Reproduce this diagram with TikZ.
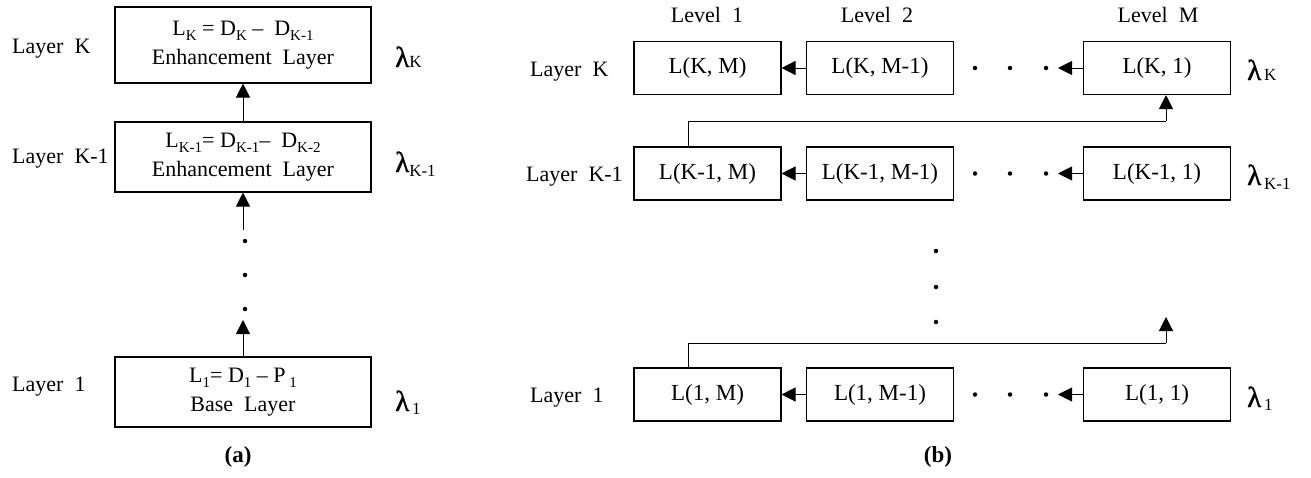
\documentclass[tikz,border=0pt]{standalone}
\usepackage{fontspec}
\setmainfont{Liberation Serif}
\newfontfamily\lamfont[FakeBold=1.2]{Liberation Serif}
\usetikzlibrary{arrows.meta,calc}

\newcommand{\bodysize}{\fontsize{22}{29}\selectfont}
\newcommand{\cellsize}{\fontsize{23}{23}\selectfont}
\newcommand{\lsb}[1]{\raisebox{-5pt}{\fontsize{15}{15}\selectfont #1}}
\newcommand{\lam}[2]{{\lamfont\fontsize{29}{29}\selectfont λ}\raisebox{#2}{\fontsize{17}{17}\selectfont #1}}

\tikzset{
  layerbox/.style={draw, line width=1.1pt, minimum width=256pt, inner sep=0pt,
                   align=center, font=\bodysize},
  cell/.style={draw, line width=1.1pt, minimum width=147pt, minimum height=53pt,
               inner sep=0pt, font=\cellsize},
  lbl/.style={anchor=base west, inner sep=0pt, font=\bodysize},
  toplbl/.style={anchor=base, inner sep=0pt, font=\bodysize},
  lamlbl/.style={anchor=base west, inner sep=0pt},
  arr/.style={-{Triangle[length=14pt,width=14pt]}, line width=1pt},
  link/.style={line width=1pt},
  dot/.style={circle, fill, inner sep=0pt, minimum size=4.5pt},
  caption/.style={anchor=base, inner sep=0pt, font=\fontsize{23}{23}\selectfont\bfseries}
}

\begin{document}
\begin{tikzpicture}[x=1pt,y=-1pt]
\useasboundingbox (0,0) rectangle (1311,477);

% ---------- (a) layered coding ----------
\node[layerbox, minimum height=76pt] (aK) at (243,45)
  {L\lsb{K} = D\lsb{K} –\ \ D\lsb{K-1}\\Enhancement\ \ Layer};
\node[layerbox, minimum height=70pt] (aKm) at (243,157)
  {L\lsb{K-1}= D\lsb{K-1}–\ \ D\lsb{K-2}\\Enhancement\ \ Layer};
\node[layerbox, minimum height=70pt] (aOne) at (243,392)
  {L\lsb{1}= D\lsb{1} – P\,\lsb{1}\\Base\ \ Layer};

\draw[arr] (aKm.north) -- (aK.south);
\coordinate (aFromDots) at (243,230);
\draw[arr] (aFromDots) -- (aKm.south);
\coordinate (aToDots) at (243,320);
\draw[arr] (aOne.north) -- (aToDots);

\node[dot] (ad1) at (245,241) {};
\node[dot] (ad2) at (245,275) {};
\node[dot] (ad3) at (245,309) {};

\node[lbl] (aLK)  at (12,53)  {Layer\ \ K};
\node[lbl] (aLKm) at (12,163) {Layer\ \ K-1};
\node[lbl] (aL1)  at (12,391) {Layer\ \ 1};

\node[lamlbl] (aLamK)  at (395,67)  {\lam{K}{0pt}};
\node[lamlbl] (aLamKm) at (395,172) {\lam{K-1}{-4pt}};
\node[lamlbl] (aLam1)  at (395,411) {\lam{\,1}{-3pt}};

\node[caption] (capA) at (238,462) {(a)};

% ---------- (b) layers and levels ----------
\node[toplbl] (lev1) at (707,22) {Level\ \ 1};
\node[toplbl] (lev2) at (877,22) {Level\ \ 2};
\node[toplbl] (levM) at (1158,22) {Level\ \ M};

% row K
\node[cell] (bK1) at (707.5,68) {L(K, M)};
\node[cell] (bK2) at (880,68)   {L(K, M-1)};
\node[cell] (bK3) at (1157,68)  {L(K, 1)};
% row K-1
\node[cell] (bKm1) at (707.5,173.5) {L(K-1, M)};
\node[cell] (bKm2) at (880,173.5)   {L(K-1, M-1)};
\node[cell] (bKm3) at (1157,173.5)  {L(K-1, 1)};
% row 1
\node[cell] (bO1) at (707.5,394.5) {L(1, M)};
\node[cell] (bO2) at (880,394.5)   {L(1, M-1)};
\node[cell] (bO3) at (1157,394.5)  {L(1, 1)};

% row labels
\node[lbl] (bLK)  at (530,76)  {Layer\ \ K};
\node[lbl] (bLKm) at (526,181) {Layer\ \ K-1};
\node[lbl] (bL1)  at (530,402) {Layer\ \ 1};

% lambda labels
\node[lamlbl] (bLamK)  at (1247,80)  {\lam{\,K}{0pt}};
\node[lamlbl] (bLamKm) at (1247,185) {\lam{\,K-1}{-4pt}};
\node[lamlbl] (bLam1)  at (1247,407) {\lam{\,1}{-3pt}};

% level-to-level arrows and elided levels
\foreach \r/\y in {K/68, Km/173.5, O/394.5} {
  \draw[arr] (b\r2.west) -- (b\r1.east);
  \coordinate (tip\r) at (1058,\y);
  \draw[arr] (b\r3.west) -- (tip\r);
  \node[dot] (hd\r1) at (975,\y) {};
  \node[dot] (hd\r2) at (1010,\y) {};
  \node[dot] (hd\r3) at (1046,\y) {};
}

% feedback from the last level of a layer to the first level of the next
\coordinate (fbKm) at (688,121);
\coordinate (fbKmEnd) at (1166,121);
\draw[link] ($(bKm1.north)+(-19.5,0)$) -- (fbKm) -- (fbKmEnd);
\draw[arr] (fbKmEnd) -- (fbKmEnd |- bK3.south);

\coordinate (fbO) at (688,343);
\coordinate (fbOEnd) at (1166,343);
\coordinate (fbOTip) at (1166,317);
\draw[link] ($(bO1.north)+(-19.5,0)$) -- (fbO) -- (fbOEnd);
\draw[arr] (fbOEnd) -- (fbOTip);

% elided layers
\node[dot] (bv1) at (936,251) {};
\node[dot] (bv2) at (936,287) {};
\node[dot] (bv3) at (936,322) {};

\node[caption] (capB) at (938,462) {(b)};
\end{tikzpicture}
\end{document}
